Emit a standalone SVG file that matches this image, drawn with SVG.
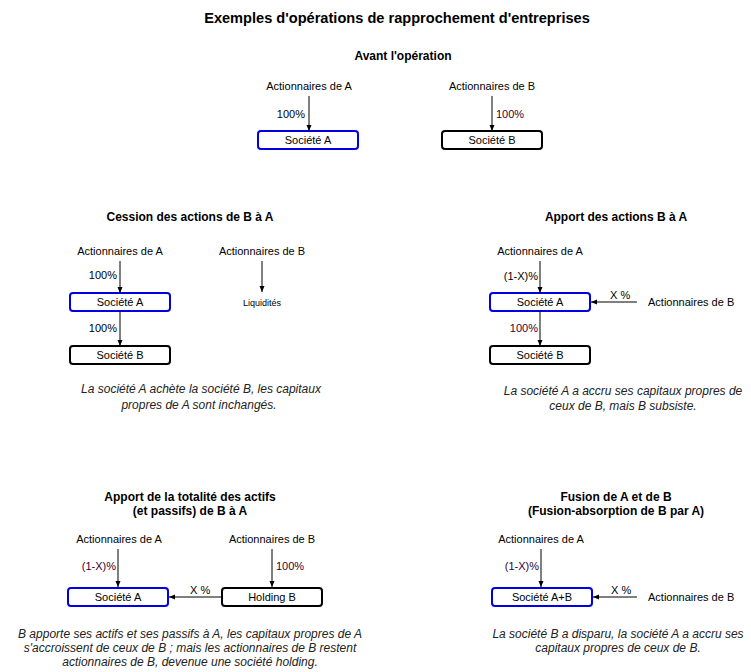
<svg xmlns="http://www.w3.org/2000/svg" width="751" height="672" viewBox="0 0 751 672">
<style>
text{font-family:"Liberation Sans",Arial,sans-serif;font-size:11px;fill:#000}
.t{font-size:14.6px;font-weight:bold;text-anchor:middle}
.h{font-size:12px;font-weight:bold;text-anchor:middle}
.c{text-anchor:middle}
.e{text-anchor:end}
.p{fill:#330033}
.i{font-size:12px;font-style:italic;text-anchor:middle;fill:#222}
.s{font-size:9px;text-anchor:middle}
.ba{fill:#fff;stroke:#0000e0;stroke-width:2}
.bb{fill:#fff;stroke:#000;stroke-width:2}
.ln{stroke:#000;stroke-width:1;fill:none;marker-end:url(#ar)}
</style>
<defs>
<marker id="ar" viewBox="0 0 6 6" refX="6" refY="3" markerWidth="6" markerHeight="6" markerUnits="userSpaceOnUse" orient="auto">
<path d="M0,0.5 L6,3 L0,5.5 Z" fill="#000"/>
</marker>
</defs>
<rect width="751" height="672" fill="#fff"/>
<text class="t" x="397" y="23">Exemples d'opérations de rapprochement d'entreprises</text>

<!-- Avant -->
<text class="h" x="403" y="60">Avant l'opération</text>
<g id="avant-actA"><text class="c" x="309" y="90">Actionnaires de A</text></g>
<g id="avant-actB"><text class="c" x="492" y="90">Actionnaires de B</text></g>
<g id="avant-socA"><rect class="ba" x="258" y="131" width="100" height="18" rx="3"/><text class="c" x="308" y="144">Société A</text></g>
<g id="avant-socB"><rect class="bb" x="442" y="131" width="100" height="18" rx="3"/><text class="c" x="492" y="144">Société B</text></g>

<!-- Cession -->
<text class="h" x="190" y="221">Cession des actions de B à A</text>
<g id="ces-actA"><text class="c" x="120" y="255">Actionnaires de A</text></g>
<g id="ces-actB"><text class="c" x="262" y="255">Actionnaires de B</text></g>
<g id="ces-socA"><rect class="ba" x="70" y="293" width="100" height="18" rx="3"/><text class="c" x="120" y="306">Société A</text></g>
<g id="ces-socB"><rect class="bb" x="70" y="346" width="100" height="18" rx="3"/><text class="c" x="120" y="359">Société B</text></g>
<g id="ces-liq"><text class="s" x="262" y="306">Liquidités</text></g>
<text class="i" x="201" y="393">La société A achète la société B, les capitaux</text>
<text class="i" x="199" y="409">propres de A sont inchangés.</text>

<!-- Apport des actions -->
<text class="h" x="616" y="221">Apport des actions B à A</text>
<g id="app-actA"><text class="c" x="540" y="255">Actionnaires de A</text></g>
<g id="app-actB"><text x="648" y="306">Actionnaires de B</text></g>
<g id="app-socA"><rect class="ba" x="490" y="293" width="100" height="18" rx="3"/><text class="c" x="540" y="306">Société A</text></g>
<g id="app-socB"><rect class="bb" x="490" y="346" width="100" height="18" rx="3"/><text class="c" x="540" y="359">Société B</text></g>
<text class="i" x="623" y="395">La société A a accru ses capitaux propres de</text>
<text class="i" x="623" y="410">ceux de B, mais B subsiste.</text>

<!-- Apport totalité -->
<text class="h" x="190" y="501">Apport de la totalité des actifs</text>
<text class="h" x="190" y="515">(et passifs) de B à A</text>
<g id="tot-actA"><text class="c" x="119" y="543">Actionnaires de A</text></g>
<g id="tot-actB"><text class="c" x="272" y="543">Actionnaires de B</text></g>
<g id="tot-socA"><rect class="ba" x="68" y="588" width="100" height="18" rx="3"/><text class="c" x="118" y="601">Société A</text></g>
<g id="tot-hold"><rect class="bb" x="222" y="588" width="100" height="18" rx="3"/><text class="c" x="272" y="601">Holding B</text></g>
<text class="i" x="190" y="638">B apporte ses actifs et ses passifs à A, les capitaux propres de A</text>
<text class="i" x="190" y="652">s'accroissent de ceux de B ; mais les actionnaires de B restent</text>
<text class="i" x="190" y="666">actionnaires de B, devenue une société holding.</text>

<!-- Fusion -->
<text class="h" x="616" y="501">Fusion de A et de B</text>
<text class="h" x="616" y="515">(Fusion-absorption de B par A)</text>
<g id="fus-actA"><text class="c" x="541" y="543">Actionnaires de A</text></g>
<g id="fus-actB"><text x="648" y="601">Actionnaires de B</text></g>
<g id="fus-soc"><rect class="ba" x="492" y="588" width="100" height="18" rx="3"/><text class="c" x="542" y="601">Société A+B</text></g>
<text class="i" x="618" y="638">La société B a disparu, la société A a accru ses</text>
<text class="i" x="618" y="652">capitaux propres de ceux de B.</text>

<g id="connectors">
<line class="ln" x1="309" y1="96" x2="309" y2="131"/>
<text class="e" x="305" y="118">100%</text>
<line class="ln" x1="492" y1="96" x2="492" y2="131"/>
<text class="p" x="496" y="118">100%</text>

<line class="ln" x1="120" y1="261" x2="120" y2="293"/>
<text class="e" x="117" y="279">100%</text>
<line class="ln" x1="120" y1="311" x2="120" y2="346"/>
<text class="e" x="117" y="332">100%</text>
<line class="ln" x1="262" y1="261" x2="262" y2="292"/>

<line class="ln" x1="540" y1="261" x2="540" y2="293"/>
<text class="e" x="538" y="280">(1-X)%</text>
<line class="ln" x1="637" y1="302" x2="591" y2="302"/>
<text x="610" y="299">X %</text>
<line class="ln" x1="540" y1="311" x2="540" y2="346"/>
<text class="e p" x="538" y="332">100%</text>

<line class="ln" x1="118" y1="549" x2="118" y2="587"/>
<text class="e p" x="116" y="570">(1-X)%</text>
<line class="ln" x1="272" y1="549" x2="272" y2="587"/>
<text class="p" x="276" y="570">100%</text>
<line class="ln" x1="222" y1="597" x2="169" y2="597"/>
<text x="190" y="594">X %</text>

<line class="ln" x1="541" y1="549" x2="541" y2="587"/>
<text class="e p" x="539" y="570">(1-X)%</text>
<line class="ln" x1="637" y1="597" x2="593" y2="597"/>
<text x="611" y="594">X %</text>
</g>
</svg>
